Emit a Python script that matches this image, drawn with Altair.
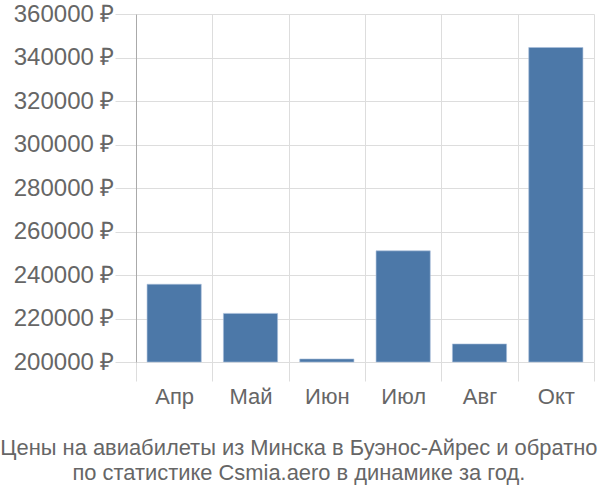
import altair as alt
import pandas as pd

months = ["Апр", "Май", "Июн", "Июл", "Авг", "Окт"]
prices = [235750, 222350, 201400, 251100, 208300, 344600]
base_price = 200000
y_ticks = [200000, 220000, 240000, 260000, 280000, 300000, 320000, 340000, 360000]
title_lines = ["Цены на авиабилеты из Минска в Буэнос-Айрес и обратно",
               "по статистике Csmia.aero в динамике за год."]

df = pd.DataFrame({"month": months, "price": prices})

FONT = "Liberation Sans"

bars = alt.Chart(df).mark_bar(color="#4c78a8", stroke="#a9c0dc", strokeWidth=0.6,
                              width=alt.RelativeBandSize(0.71)).encode(
    x=alt.X("month:N", sort=months,
            scale=alt.Scale(paddingInner=0, paddingOuter=0),
            axis=alt.Axis(title=None, tickBand="extent", grid=True, gridColor="#dddddd",
                          ticks=True, tickSize=19, tickColor="#dddddd", domain=False,
                          labelFont=FONT, labelFontSize=22, labelColor="#666666",
                          labelPadding=5, labelAngle=0)),
    y=alt.Y("price:Q",
            scale=alt.Scale(domain=[200000, 360000], nice=False, zero=False),
            axis=alt.Axis(title=None, values=y_ticks, grid=True, gridColor="#dddddd",
                          tickSize=21, tickColor="#dddddd", domainColor="#aaaaaa",
                          labelExpr="format(datum.value, 'd') + ' ₽'",
                          labelFont=FONT, labelFontSize=24, labelColor="#666666",
                          labelPadding=1)),
    y2=alt.datum(base_price),
)

chart = bars.properties(
    width=458, height=348,
    title=alt.TitleParams(text=title_lines, orient="bottom", anchor="middle", frame="bounds",
                          font=FONT, fontSize=21.9, fontWeight="normal", color="#666666",
                          offset=31, lineHeight=25, dx=-5),
    autosize=alt.AutoSizeParams(type="none"),
    padding={"left": 136, "top": 14, "right": 6, "bottom": 138},
).configure_view(stroke=None)

chart.save("out.html", embed_options={"renderer": "svg", "actions": False})
